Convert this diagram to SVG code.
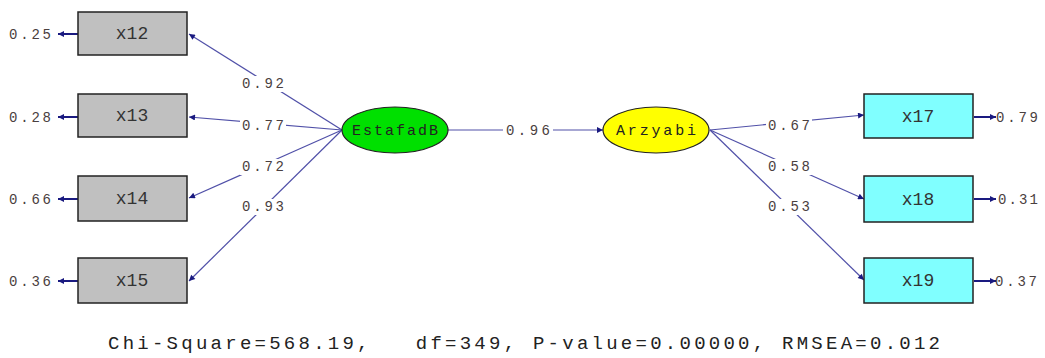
<svg xmlns="http://www.w3.org/2000/svg" width="1045" height="358" viewBox="0 0 1045 358">
<defs>
<marker id="ah" viewBox="0 0 10 10" refX="10" refY="5" markerWidth="9" markerHeight="6" markerUnits="userSpaceOnUse" orient="auto"><path d="M0,0 L10,5 L0,10 z" fill="#1a1a80"/></marker>
<style>
.ln{stroke:#5050a8;stroke-width:1.2;fill:none;marker-end:url(#ah)}
.er{stroke:#1a1a80;stroke-width:2;fill:none;marker-end:url(#ah)}
.lb{font-family:"Liberation Mono","DejaVu Sans Mono",monospace;font-size:14px;fill:#4a4040;text-anchor:middle;dominant-baseline:central}
.bx{font-family:"Liberation Mono","DejaVu Sans Mono",monospace;font-size:18px;fill:#333;text-anchor:middle;dominant-baseline:central}
.el{font-family:"Liberation Mono","DejaVu Sans Mono",monospace;font-size:15px;fill:#222;text-anchor:middle;dominant-baseline:central}
.gr{fill:#c0c0c0;stroke:#222;stroke-width:1.5}
.cy{fill:#80ffff;stroke:#222;stroke-width:1.5}
.bg{fill:#fff}
</style>
</defs>
<rect width="1045" height="358" fill="#fff"/>
<g id="connectors">
<line class="ln" x1="342" y1="130" x2="189" y2="34"/>
<line class="ln" x1="342" y1="130" x2="189" y2="117"/>
<line class="ln" x1="342" y1="130" x2="189" y2="198"/>
<line class="ln" x1="342" y1="130" x2="189" y2="281"/>
<line class="ln" x1="448" y1="130" x2="603" y2="130"/>
<line class="ln" x1="710" y1="130" x2="864" y2="115"/>
<line class="ln" x1="710" y1="130" x2="864" y2="199"/>
<line class="ln" x1="710" y1="130" x2="864" y2="280"/>
<line class="er" x1="78" y1="34" x2="58" y2="34"/>
<line class="er" x1="78" y1="117" x2="58" y2="117"/>
<line class="er" x1="78" y1="199" x2="58" y2="199"/>
<line class="er" x1="78" y1="281" x2="58" y2="281"/>
<line class="er" x1="974" y1="117" x2="996" y2="117"/>
<line class="er" x1="974" y1="199" x2="996" y2="199"/>
<line class="er" x1="974" y1="281" x2="996" y2="281"/>
<rect class="bg" x="240" y="76" width="46" height="16"/>
<rect class="bg" x="240" y="118" width="46" height="16"/>
<rect class="bg" x="240" y="159" width="46" height="16"/>
<rect class="bg" x="240" y="199" width="46" height="16"/>
<rect class="bg" x="503" y="123" width="50" height="16"/>
<rect class="bg" x="766" y="118" width="46" height="16"/>
<rect class="bg" x="766" y="159" width="46" height="16"/>
<rect class="bg" x="766" y="199" width="46" height="16"/>
<text class="lb" x="263" y="84" textLength="42" lengthAdjust="spacing">0.92</text>
<text class="lb" x="263" y="126" textLength="42" lengthAdjust="spacing">0.77</text>
<text class="lb" x="263" y="167" textLength="42" lengthAdjust="spacing">0.72</text>
<text class="lb" x="263" y="207" textLength="42" lengthAdjust="spacing">0.93</text>
<text class="lb" x="528" y="131" textLength="44" lengthAdjust="spacing">0.96</text>
<text class="lb" x="789" y="126" textLength="42" lengthAdjust="spacing">0.67</text>
<text class="lb" x="789" y="167" textLength="42" lengthAdjust="spacing">0.58</text>
<text class="lb" x="789" y="207" textLength="42" lengthAdjust="spacing">0.53</text>
<text class="lb" x="30" y="35" textLength="42" lengthAdjust="spacing">0.25</text>
<text class="lb" x="30" y="118" textLength="42" lengthAdjust="spacing">0.28</text>
<text class="lb" x="30" y="200" textLength="42" lengthAdjust="spacing">0.66</text>
<text class="lb" x="30" y="282" textLength="42" lengthAdjust="spacing">0.36</text>
<text class="lb" x="1017" y="118" textLength="42" lengthAdjust="spacing">0.79</text>
<text class="lb" x="1018" y="200" textLength="40" lengthAdjust="spacing">0.31</text>
<text class="lb" x="1016" y="282" textLength="42" lengthAdjust="spacing">0.37</text>
</g>
<g id="x12"><rect class="gr" x="78" y="12" width="109" height="43"/><text class="bx" x="132" y="34">x12</text></g>
<g id="x13"><rect class="gr" x="78" y="94" width="109" height="43"/><text class="bx" x="132" y="116">x13</text></g>
<g id="x14"><rect class="gr" x="78" y="176" width="109" height="45"/><text class="bx" x="132" y="199">x14</text></g>
<g id="x15"><rect class="gr" x="78" y="258" width="109" height="45"/><text class="bx" x="132" y="281">x15</text></g>
<g id="x17"><rect class="cy" x="864" y="94" width="109" height="44"/><text class="bx" x="918" y="117">x17</text></g>
<g id="x18"><rect class="cy" x="864" y="176" width="109" height="46"/><text class="bx" x="918" y="200">x18</text></g>
<g id="x19"><rect class="cy" x="864" y="258" width="109" height="45"/><text class="bx" x="918" y="281">x19</text></g>
<g id="EstafadB"><ellipse cx="395" cy="130" rx="53" ry="23" fill="#00e000" stroke="#222" stroke-width="1.2"/><text class="el" x="395" y="131" textLength="86" lengthAdjust="spacing">EstafadB</text></g>
<g id="Arzyabi"><ellipse cx="656" cy="130" rx="53" ry="23" fill="#ffff00" stroke="#222" stroke-width="1.2"/><text class="el" x="656" y="131" textLength="80" lengthAdjust="spacing">Arzyabi</text></g>
<text x="524" y="344" font-family="Liberation Mono, DejaVu Sans Mono, monospace" font-size="19" fill="#222" text-anchor="middle" dominant-baseline="central" textLength="832" lengthAdjust="spacing" xml:space="preserve">Chi-Square=568.19,   df=349, P-value=0.00000, RMSEA=0.012</text>
</svg>
